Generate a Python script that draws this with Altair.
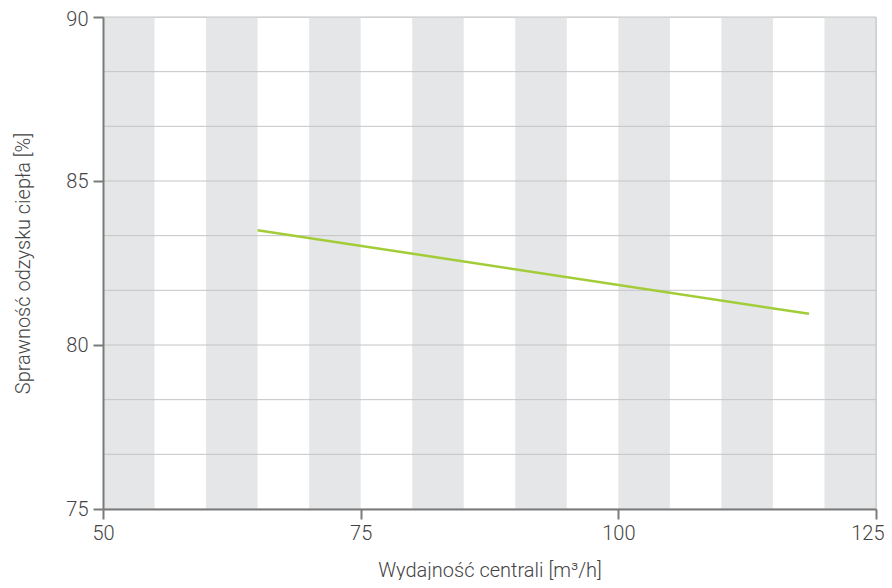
import altair as alt
import pandas as pd

# data
flow = [65.0, 118.5]
efficiency = [83.5, 80.95]
band_start = [50, 60, 70, 80, 90, 100, 110, 120]
band_width = 5
grid_y = [75 + k * 5 / 3 for k in range(10)]
x_ticks = [50, 75, 100, 125]
y_ticks = [75, 80, 85, 90]

line_df = pd.DataFrame({"x": flow, "y": efficiency})
band_df = pd.DataFrame({"x0": band_start, "x1": [b + band_width for b in band_start]})
grid_df = pd.DataFrame({"y": grid_y})
vgrid_df = pd.DataFrame({"x": [125]})

FONT = "Roboto"
TXT = "#444444"
AX = "#7a7a7a"

xscale = alt.Scale(domain=[50, 125], nice=False, zero=False)
yscale = alt.Scale(domain=[75, 90], nice=False, zero=False)

xaxis = alt.Axis(values=x_ticks, grid=False, title="Wydajność centrali [m³/h]",
                 labelFlush=False, titlePadding=17, labelPadding=4, zindex=1,
                 labelAlign={"condition": {"test": "datum.value >= 125", "value": "right"},
                             "value": "center"},
                 labelOffset={"condition": {"test": "datum.value >= 125", "value": 8},
                              "value": 0})
yaxis = alt.Axis(values=y_ticks, grid=False, title="Sprawność odzysku ciepła [%]",
                 titlePadding=32, labelPadding=5, zindex=1,
                 labelOffset={"condition": {"test": "datum.value >= 90", "value": 2},
                              "value": 0})

bands = alt.Chart(band_df).mark_rect(color="#e5e6e8").encode(
    x=alt.X("x0:Q", scale=xscale, axis=xaxis),
    x2="x1:Q",
    y=alt.value(0),
    y2=alt.value(492),
)

hgrid = alt.Chart(grid_df).mark_rule(color="#c4c4c4", strokeWidth=1).encode(
    y=alt.Y("y:Q", scale=yscale, axis=yaxis),
)

vgrid = alt.Chart(vgrid_df).mark_rule(color="#c4c4c4", strokeWidth=1).encode(
    x=alt.X("x:Q", scale=xscale, axis=xaxis),
)

line = alt.Chart(line_df).mark_line(color="#a2cc38", strokeWidth=2.5).encode(
    x=alt.X("x:Q", scale=xscale, axis=xaxis),
    y=alt.Y("y:Q", scale=yscale, axis=yaxis),
)

chart = alt.layer(bands, hgrid, vgrid, line).properties(
    width=773, height=492,
    autosize=alt.AutoSizeParams(type="none"),
    padding={"left": 95, "top": 9, "right": 8, "bottom": 71},
).configure_view(stroke=None).configure(background="white").configure_axis(
    domainColor=AX, domainWidth=2, tickColor=AX, tickWidth=2, tickSize=10,
    labelFont=FONT, labelFontSize=20, labelColor=TXT, labelFontWeight=300,
    titleFont=FONT, titleFontSize=20, titleFontWeight=300, titleColor=TXT,
)

chart.save("out.html", embed_options={"renderer": "svg", "actions": False})
